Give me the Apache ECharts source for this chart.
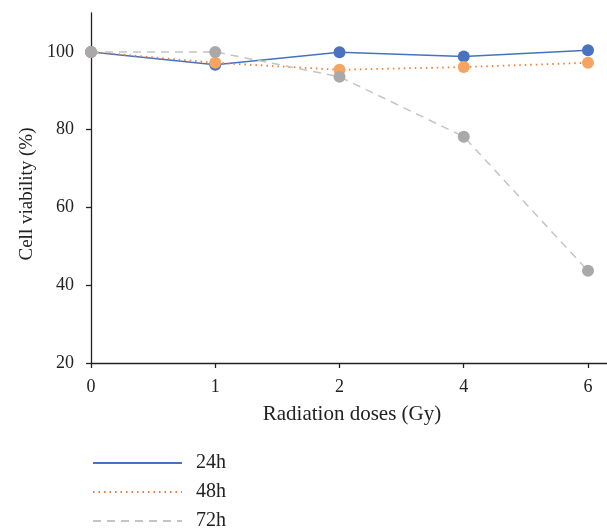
<!DOCTYPE html>
<html><head><meta charset="utf-8">
<script src="https://cdn.jsdelivr.net/npm/echarts@6/dist/echarts.min.js"></script>
<style>html,body{margin:0;padding:0;background:#fff}#c{width:607px;height:528px}</style>
</head><body><div id="c"></div>
<script>
var categories = ['0', '1', '2', '4', '6'];
var v24 = [100, 96.7, 99.9, 98.8, 100.4];
var v48 = [100, 97.2, 95.4, 96.1, 97.2];
var v72 = [100, 100, 93.6, 78.2, 43.7];
var yTicks = [20, 40, 60, 80, 100];
var xTicks = categories.map(function (c, i) { return i; });

function pts(arr) { return arr.map(function (v, i) { return [i, v]; }); }
var FONT = '"Liberation Serif", "DejaVu Serif", serif';
var chart = echarts.init(document.getElementById('c'));
chart.setOption({
  animation: false,
  grid: { left: 91, right: 0, top: 13, bottom: 165 },
  xAxis: {
    type: 'value', min: 0, max: 4.153, interval: 1,
    name: 'Radiation doses (Gy)', nameLocation: 'middle', nameGap: 41,
    nameTextStyle: { fontFamily: FONT, fontSize: 21, color: '#222', padding: [0, 0, 0, 6] },
    axisLine: { lineStyle: { color: '#222', width: 1.3 } },
    axisTick: { show: true, length: 5, customValues: xTicks, lineStyle: { color: '#222', width: 1.3 } },
    axisLabel: { customValues: xTicks, margin: 15, fontFamily: FONT, fontSize: 18, color: '#222',
      formatter: function (v) { return categories[Math.round(v)]; } },
    splitLine: { show: false }
  },
  yAxis: {
    type: 'value', min: 20, max: 110, interval: 20,
    name: 'Cell viability (%)', nameLocation: 'middle', nameGap: 54,
    nameTextStyle: { fontFamily: FONT, fontSize: 19, color: '#222', padding: [0, 12, 0, 0] },
    axisLine: { show: true, lineStyle: { color: '#222', width: 1.3 } },
    axisTick: { show: true, length: 5, customValues: yTicks, lineStyle: { color: '#222', width: 1.3 } },
    axisLabel: { customValues: yTicks, margin: 17, fontFamily: FONT, fontSize: 18, color: '#222' },
    splitLine: { show: false }
  },
  legend: {
    orient: 'vertical', left: 92, top: 453, height: 120, padding: 0,
    itemWidth: 89, itemHeight: 14, itemGap: 9,
    itemStyle: { opacity: 0 },
    textStyle: { fontFamily: FONT, fontSize: 20, color: '#222', padding: [0, 0, 0, 9] },
    data: ['24h', '48h', '72h']
  },
  series: [
    { name: '24h', type: 'line', data: pts(v24), symbol: 'circle', symbolSize: 12,
      lineStyle: { color: '#4472C4', width: 1.5 }, itemStyle: { color: '#4A72C0' } },
    { name: '48h', type: 'line', data: pts(v48), symbol: 'circle', symbolSize: 12,
      lineStyle: { color: '#ED7D31', width: 1.8, type: [1.5, 4] }, itemStyle: { color: '#F5A462' } },
    { name: '72h', type: 'line', data: pts(v72), symbol: 'circle', symbolSize: 12,
      lineStyle: { color: '#C4C4C4', width: 1.5, type: [8, 6] }, itemStyle: { color: '#AAA8A8' } }
  ]
});
</script></body></html>
